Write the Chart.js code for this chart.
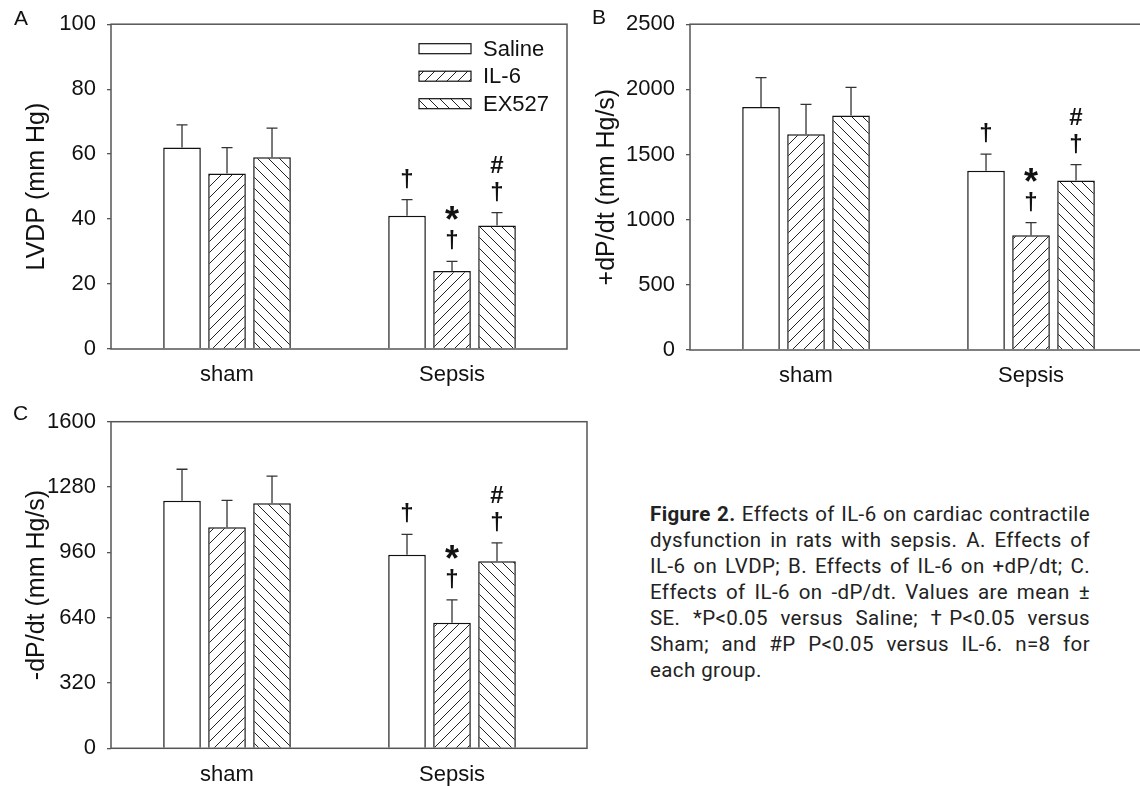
<!DOCTYPE html>
<html>
<head>
<meta charset="utf-8">
<script src="https://cdn.jsdelivr.net/npm/chart.js@4.4.1/dist/chart.umd.min.js"></script>
<style>
  body { margin: 0; background: #fff; width: 1140px; height: 786px; overflow: hidden; position: relative; }
  canvas { position: absolute; }
  .tag { position: absolute; font: 21px "Liberation Sans", Arial, sans-serif; line-height: 21px; color: #111; }
  #caption { position: absolute; left: 650px; top: 501px; width: 440px; font: 20.5px Roboto, "Noto Sans", sans-serif; letter-spacing: 0.4px; line-height: 26px; color: #222; }
  #caption div { white-space: nowrap; text-align: justify; text-align-last: justify; }
  #caption div.last { text-align-last: left; }
</style>
</head>
<body>
<canvas id="chartA" width="590" height="390" style="left:0;top:0"></canvas>
<canvas id="chartB" width="600" height="390" style="left:570px;top:0"></canvas>
<canvas id="chartC" width="620" height="396" style="left:0;top:390px"></canvas>

<div class="tag" style="left:14px;top:7px">A</div>
<div class="tag" style="left:592px;top:6px">B</div>
<div class="tag" style="left:13px;top:402px">C</div>

<div id="caption">
  <div><b>Figure 2.</b> Effects of IL-6 on cardiac contractile</div>
  <div>dysfunction in rats with sepsis. A. Effects of</div>
  <div>IL-6 on LVDP; B. Effects of IL-6 on +dP/dt; C.</div>
  <div>Effects of IL-6 on -dP/dt. Values are mean ±</div>
  <div>SE. *P&lt;0.05 versus Saline; †P&lt;0.05 versus</div>
  <div>Sham; and #P P&lt;0.05 versus IL-6. n=8 for</div>
  <div class="last">each group.</div>
</div>

<script>
// grupos y series
const groups = ["sham", "Sepsis"];
const seriesNames = ["Saline", "IL-6", "EX527"];

// A. LVDP
const lvdpSaline = [62, 41];
const lvdpIL6 = [54, 24];
const lvdpEX527 = [59, 38];
const lvdpSeSaline = [7, 5];
const lvdpSeIL6 = [8, 3];
const lvdpSeEX527 = [9, 4];
const lvdpTicks = [0, 20, 40, 60, 80, 100];

// B. +dP/dt
const plusSaline = [1865, 1375];
const plusIL6 = [1655, 880];
const plusEX527 = [1800, 1300];
const plusSeSaline = [225, 128];
const plusSeIL6 = [230, 97];
const plusSeEX527 = [215, 123];
const plusTicks = [0, 500, 1000, 1500, 2000, 2500];

// C. -dP/dt
const minusSaline = [1213, 948];
const minusIL6 = [1083, 615];
const minusEX527 = [1200, 916];
const minusSeSaline = [154, 100];
const minusSeIL6 = [132, 112];
const minusSeEX527 = [133, 90];
const minusTicks = [0, 320, 640, 960, 1280, 1600];

// marcas de significancia (se dibujan de abajo hacia arriba)
const markSaline = ["", "†"];
const markIL6 = ["", "*†"];
const markEX527 = ["", "#†"];

const FONT = "'Liberation Sans', Arial, sans-serif";
const INK = "#111";
Chart.defaults.font.family = FONT;

// patrones de rayado
function hatch(dir) {
    const s = 11;
    const c = document.createElement("canvas");
    c.width = s; c.height = s;
    const g = c.getContext("2d");
    g.fillStyle = "#fff";
    g.fillRect(0, 0, s, s);
    g.strokeStyle = "#222";
    g.lineWidth = 1;
    g.beginPath();
    if (dir === "/") {
        g.moveTo(0, s); g.lineTo(s, 0);
        g.moveTo(-s / 2, s / 2); g.lineTo(s / 2, -s / 2);
        g.moveTo(s / 2, s * 1.5); g.lineTo(s * 1.5, s / 2);
    } else {
        g.moveTo(0, 0); g.lineTo(s, s);
        g.moveTo(-s / 2, s / 2); g.lineTo(s / 2, s * 1.5);
        g.moveTo(s / 2, -s / 2); g.lineTo(s * 1.5, s / 2);
    }
    g.stroke();
    return g.createPattern(c, "repeat");
}
const fills = ["#ffffff", hatch("/"), hatch("\\")];

// barras de error + símbolos
const errorBars = {
    id: "errorBars",
    afterDatasetsDraw(chart) {
        const { ctx } = chart;
        const y = chart.scales.y;
        ctx.save();
        chart.data.datasets.forEach((ds, i) => {
            const meta = chart.getDatasetMeta(i);
            meta.data.forEach((bar, j) => {
                const top = y.getPixelForValue(ds.data[j].y + ds.se[j]);
                ctx.strokeStyle = "#333";
                ctx.lineWidth = 1.3;
                ctx.beginPath();
                ctx.moveTo(bar.x, bar.y);
                ctx.lineTo(bar.x, top);
                ctx.moveTo(bar.x - 5.5, top);
                ctx.lineTo(bar.x + 5.5, top);
                ctx.stroke();

                const marks = (ds.marks[j] || "").split("").reverse();
                let cy = top - 21;
                marks.forEach(m => {
                    ctx.font = (m === "*" ? "bold 36px " : "bold 24px ") + FONT;
                    ctx.fillStyle = INK;
                    ctx.textAlign = "center";
                    ctx.textBaseline = "alphabetic";
                    const mt = ctx.measureText(m);
                    const base = cy + (mt.actualBoundingBoxAscent - mt.actualBoundingBoxDescent) / 2;
                    ctx.fillText(m, bar.x, base);
                    cy -= 27;
                });
            });
        });
        ctx.restore();
    }
};

// marco del área
const frame = {
    id: "frame",
    afterDraw(chart) {
        const { ctx, chartArea: a } = chart;
        ctx.save();
        ctx.strokeStyle = "#555";
        ctx.lineWidth = 1.5;
        ctx.strokeRect(a.left, a.top, a.right - a.left, a.bottom - a.top);
        ctx.restore();
    }
};

// leyenda con rayado
const hatchLegend = {
    id: "hatchLegend",
    afterDraw(chart, args, opts) {
        if (!opts.display) return;
        const { ctx } = chart;
        ctx.save();
        chart.data.datasets.forEach((ds, i) => {
            const cy = opts.y + i * opts.gap;
            ctx.fillStyle = ds.backgroundColor;
            ctx.fillRect(opts.x, cy - 5, 52, 10);
            ctx.strokeStyle = "#111";
            ctx.lineWidth = 1.2;
            ctx.strokeRect(opts.x, cy - 5, 52, 10);
            ctx.fillStyle = INK;
            ctx.font = "22px " + FONT;
            ctx.textAlign = "left";
            ctx.textBaseline = "middle";
            ctx.fillText(ds.label, opts.x + 64, cy + 1);
        });
        ctx.restore();
    }
};

function makePanel(id, cfg) {
    const toPts = arr => arr.map((v, i) => ({ x: i + 1, y: v }));
    const yTicks = cfg.ticks;
    return new Chart(document.getElementById(id), {
        type: "bar",
        data: {
            datasets: cfg.values.map((vals, k) => ({
                label: seriesNames[k],
                data: toPts(vals),
                se: cfg.se[k],
                marks: cfg.marks[k],
                backgroundColor: fills[k],
                borderColor: "#111",
                borderWidth: 1.5,
                categoryPercentage: 0.6,
                barPercentage: 0.836
            }))
        },
        options: {
            responsive: false,
            animation: false,
            devicePixelRatio: 1,
            layout: { padding: { top: cfg.top, right: cfg.right, left: 0, bottom: 0 } },
            plugins: {
                legend: { display: false },
                tooltip: { enabled: false },
                hatchLegend: cfg.legend || { display: false }
            },
            scales: {
                x: {
                    type: "linear",
                    min: 0.4844,
                    max: cfg.xMax,
                    offset: false,
                    afterBuildTicks: s => { s.ticks = groups.map((g, i) => ({ value: i + 1 })); },
                    afterFit: s => { s.height = cfg.xH; },
                    ticks: {
                        callback: v => groups[v - 1],
                        font: { size: 22 },
                        color: INK,
                        padding: 5,
                        autoSkip: false,
                        maxRotation: 0
                    },
                    grid: { display: false },
                    border: { display: false }
                },
                y: {
                    min: yTicks[0],
                    max: yTicks[yTicks.length - 1],
                    afterBuildTicks: s => { s.ticks = yTicks.map(v => ({ value: v })); },
                    afterFit: s => { s.width = cfg.yW; },
                    ticks: { callback: v => String(v), font: { size: 22 }, color: INK, padding: 11 },
                    grid: { drawOnChartArea: false, drawTicks: true, tickLength: 4, color: "#555", lineWidth: 1.3 },
                    border: { display: false },
                    title: {
                        display: true,
                        text: cfg.title,
                        font: { size: 25 },
                        color: INK,
                        padding: { top: 22, bottom: 0 }
                    }
                }
            }
        },
        plugins: [errorBars, frame, hatchLegend]
    });
}

const marks = [markSaline, markIL6, markEX527];

makePanel("chartA", {
    values: [lvdpSaline, lvdpIL6, lvdpEX527],
    se: [lvdpSeSaline, lvdpSeIL6, lvdpSeEX527],
    marks: marks,
    ticks: lvdpTicks,
    title: "LVDP (mm Hg)",
    top: 23, right: 23, yW: 111, xH: 41, xMax: 2.511,
    legend: { display: true, x: 419, y: 48.7, gap: 27.5 }
});

makePanel("chartB", {
    values: [plusSaline, plusIL6, plusEX527],
    se: [plusSeSaline, plusSeIL6, plusSeEX527],
    marks: marks,
    ticks: plusTicks,
    title: "+dP/dt (mm Hg/s)",
    top: 23.3, right: 24, yW: 120, xH: 40, xMax: 2.511
});

makePanel("chartC", {
    values: [minusSaline, minusIL6, minusEX527],
    se: [minusSeSaline, minusSeIL6, minusSeEX527],
    marks: marks,
    ticks: minusTicks,
    title: "-dP/dt (mm Hg/s)",
    top: 31.7, right: 33, yW: 111, xH: 37.7, xMax: 2.6
});
</script>
</body>
</html>
